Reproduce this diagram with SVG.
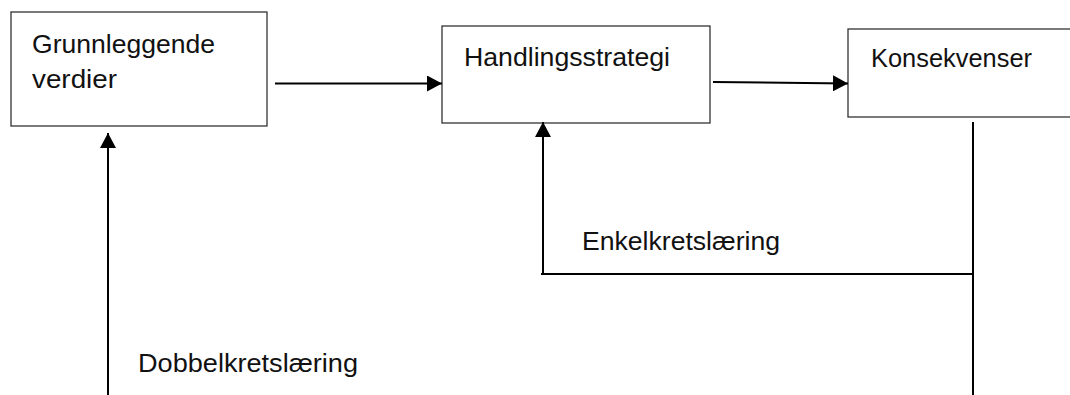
<svg xmlns="http://www.w3.org/2000/svg" width="1070" height="395" viewBox="0 0 1070 395">
<style>
.box{fill:#fff;stroke:#333;stroke-width:1.3}
.lbl{font-family:"Liberation Sans",Arial,sans-serif;font-size:25.5px;fill:#111}
.conn{stroke:#000;stroke-width:2;fill:none}
</style>
<defs>
<marker id="ah" viewBox="0 0 15 16" refX="15" refY="8" markerWidth="15" markerHeight="16" markerUnits="userSpaceOnUse" orient="auto">
<path d="M0,0 L15,8 L0,16 Z" fill="#000"/>
</marker>
</defs>
<rect width="1070" height="395" fill="#fff"/>
<g id="node-grunnleggende">
<rect class="box" x="11" y="12" width="256" height="114"/>
<text class="lbl" x="32" y="53" textLength="183" lengthAdjust="spacingAndGlyphs">Grunnleggende</text>
<text class="lbl" x="32" y="88" textLength="85" lengthAdjust="spacingAndGlyphs">verdier</text>
</g>
<g id="node-handlingsstrategi">
<rect class="box" x="442" y="26" width="268" height="97"/>
<text class="lbl" x="464" y="66" textLength="206" lengthAdjust="spacingAndGlyphs">Handlingsstrategi</text>
</g>
<g id="node-konsekvenser">
<rect class="box" x="848" y="29" width="240" height="88"/>
<text class="lbl" x="871" y="67" textLength="161" lengthAdjust="spacingAndGlyphs">Konsekvenser</text>
</g>
<g id="connectors">
<line class="conn" x1="275" y1="83.5" x2="442" y2="83.5" marker-end="url(#ah)"/>
<line class="conn" x1="713" y1="82" x2="848" y2="83.5" marker-end="url(#ah)"/>
<polyline class="conn" points="973,122 973,274 541,274"/>
<line class="conn" x1="973" y1="274" x2="973" y2="395"/>
<line class="conn" x1="543" y1="274" x2="543" y2="122" marker-end="url(#ah)"/>
<line class="conn" x1="108" y1="395" x2="108" y2="133" marker-end="url(#ah)"/>
<text class="lbl" x="582" y="250" textLength="198" lengthAdjust="spacingAndGlyphs">Enkelkretslæring</text>
<text class="lbl" x="138" y="372" textLength="220" lengthAdjust="spacingAndGlyphs">Dobbelkretslæring</text>
</g>
</svg>
